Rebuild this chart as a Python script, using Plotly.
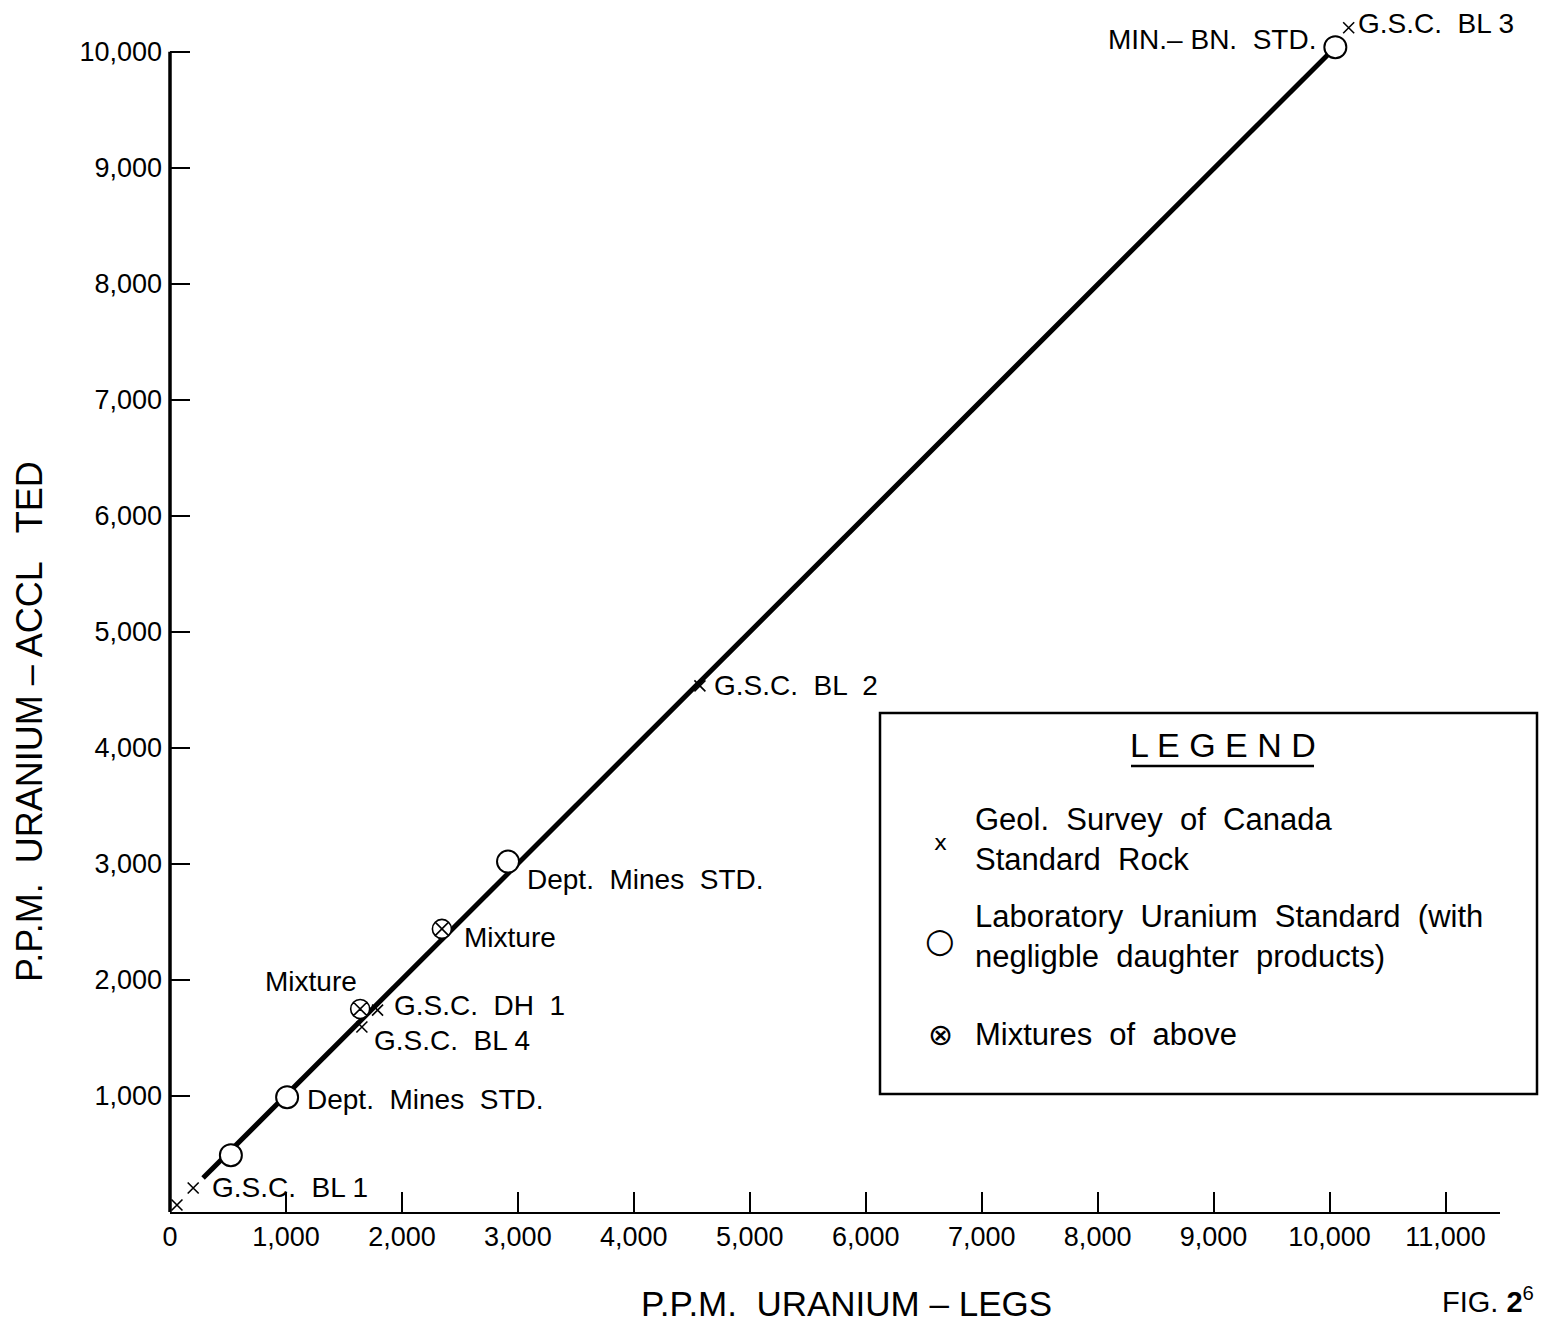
import plotly.graph_objects as go

# ---------------- data ----------------
LINE_X = [285, 10050]
LINE_Y = [293, 10040]

STD_X = [525, 1010, 2915, 10050]          # Laboratory uranium standards (open circles)
STD_Y = [490, 990, 3020, 10040]

GSC_X = [60, 200, 1655, 1790, 4570, 10165]  # Geol. Survey of Canada standard rocks (x)
GSC_Y = [60, 207, 1595, 1740, 4535, 10207]

MIX_X = [1640, 2345]                       # Mixtures (circle-x)
MIX_Y = [1750, 2440]

X_TICKS = [0, 1000, 2000, 3000, 4000, 5000, 6000, 7000, 8000, 9000, 10000, 11000]
X_TICK_LABELS = ["0", "1,000", "2,000", "3,000", "4,000", "5,000", "6,000",
                 "7,000", "8,000", "9,000", "10,000", "11,000"]
Y_TICKS = [1000, 2000, 3000, 4000, 5000, 6000, 7000, 8000, 9000, 10000]
Y_TICK_LABELS = ["1,000", "2,000", "3,000", "4,000", "5,000", "6,000",
                 "7,000", "8,000", "9,000", "10,000"]

POINT_LABELS = [
    ("MIN.– BN.  STD.", 9900, 10103, "right"),
    ("G.S.C.  BL 3", 10228, 10241, "left"),
    ("G.S.C.  BL  2", 4674, 4534, "left"),
    ("Dept.  Mines  STD.", 3061, 2862, "left"),
    ("Mixture", 2518, 2362, "left"),
    ("Mixture", 802, 1991, "left"),
    ("G.S.C.  DH  1", 1914, 1784, "left"),
    ("G.S.C.  BL 4", 1742, 1474, "left"),
    ("Dept.  Mines  STD.", 1164, 974, "left"),
    ("G.S.C.  BL 1", 345, 207, "left"),
]

FONT = "Liberation Sans"

# plot area in pixels: x 170..1500, y 17..1212
def px(xp):
    return (xp - 170) / 1330.0

def py(yp):
    return (1212 - yp) / 1195.0

fig = go.Figure()

fig.add_trace(go.Scatter(x=LINE_X, y=LINE_Y, mode="lines",
                         line=dict(color="black", width=5), cliponaxis=False,
                         showlegend=False, hoverinfo="skip"))
fig.add_trace(go.Scatter(x=STD_X, y=STD_Y, mode="markers", cliponaxis=False,
                         marker=dict(symbol="circle", size=22, color="white",
                                     line=dict(color="black", width=2)),
                         showlegend=False))
fig.add_trace(go.Scatter(x=MIX_X, y=MIX_Y, mode="markers", cliponaxis=False,
                         marker=dict(symbol="circle-x", size=19, color="white",
                                     line=dict(color="black", width=1.6)),
                         showlegend=False))
fig.add_trace(go.Scatter(x=GSC_X, y=GSC_Y, mode="markers", cliponaxis=False,
                         marker=dict(symbol="x-thin", size=11, color="black",
                                     line=dict(color="black", width=1.6)),
                         showlegend=False))

annotations = []
for txt, ax, ay, anchor in POINT_LABELS:
    annotations.append(dict(x=ax, y=ay, xref="x", yref="y", text=txt,
                            showarrow=False, xanchor=anchor, yanchor="middle",
                            font=dict(family=FONT, size=28, color="black")))

# axis titles (placed as annotations to match the original positions)
annotations.append(dict(x=px(846), y=py(1303), xref="paper", yref="paper",
                        text="P.P.M.  URANIUM – LEGS", showarrow=False,
                        xanchor="center", yanchor="middle",
                        font=dict(family=FONT, size=35, color="black")))
annotations.append(dict(x=px(30), y=py(722), xref="paper", yref="paper",
                        text="P.P.M.  URANIUM – ACCL   TED", showarrow=False,
                        textangle=-90, xanchor="center", yanchor="middle",
                        font=dict(family=FONT, size=36, color="black")))
annotations.append(dict(x=px(1440), y=py(1300), xref="paper", yref="paper",
                        text="FIG. <b>2</b><sup>6</sup>", showarrow=False,
                        xanchor="left", yanchor="middle",
                        font=dict(family=FONT, size=29, color="black")))

# legend box contents
annotations.append(dict(x=px(1223), y=py(745), xref="paper", yref="paper",
                        text="L E G E N D", showarrow=False,
                        xanchor="center", yanchor="middle",
                        font=dict(family=FONT, size=34, color="black")))
legend_rows = [
    ("x", 940, 842, 22, "Geol.  Survey  of  Canada<br>Standard  Rock", 840),
    ("○", 940, 940, 34, "Laboratory  Uranium  Standard  (with<br>negligble  daughter  products)", 936),
    ("⊗", 940, 1034, 30, "Mixtures  of  above", 1034),
]
for sym, sx, sy, ssize, txt, ty in legend_rows:
    annotations.append(dict(x=px(sx), y=py(sy), xref="paper", yref="paper",
                            text=sym, showarrow=False, xanchor="center",
                            yanchor="middle",
                            font=dict(family="DejaVu Sans", size=ssize, color="black")))
    annotations.append(dict(x=px(973), y=py(ty), xref="paper", yref="paper",
                            text=txt, showarrow=False, xanchor="left",
                            yanchor="middle", align="left",
                            font=dict(family=FONT, size=31, color="black")))

shapes = [
    # y axis line (stops at the 10,000 tick)
    dict(type="line", xref="paper", yref="y", x0=0, x1=0, y0=0, y1=10000,
         line=dict(color="black", width=3.5)),
    dict(type="rect", xref="paper", yref="paper", x0=px(880), x1=px(1537),
         y0=py(1094), y1=py(713), line=dict(color="black", width=2.5)),
    dict(type="line", xref="paper", yref="paper", x0=px(1131), x1=px(1314),
         y0=py(766), y1=py(766), line=dict(color="black", width=2.5)),
]

fig.update_layout(
    width=1546, height=1324, autosize=False,
    margin=dict(l=170, r=46, t=17, b=112, pad=0),
    paper_bgcolor="white", plot_bgcolor="white",
    font=dict(family=FONT, size=27, color="black"),
    annotations=annotations, shapes=shapes,
    xaxis=dict(range=[0, 11470], showgrid=False, zeroline=False,
               showline=True, linecolor="black", linewidth=2,
               ticks="inside", ticklen=20, tickwidth=2, tickcolor="black",
               tickvals=X_TICKS, ticktext=X_TICK_LABELS,
               tickfont=dict(family=FONT, size=27, color="black")),
    yaxis=dict(range=[0, 10300], showgrid=False, zeroline=False,
               showline=False, ticklabelstandoff=7,
               ticks="inside", ticklen=20, tickwidth=2, tickcolor="black",
               tickvals=Y_TICKS, ticktext=Y_TICK_LABELS,
               tickfont=dict(family=FONT, size=27, color="black")),
)

fig.write_html("out.html")
